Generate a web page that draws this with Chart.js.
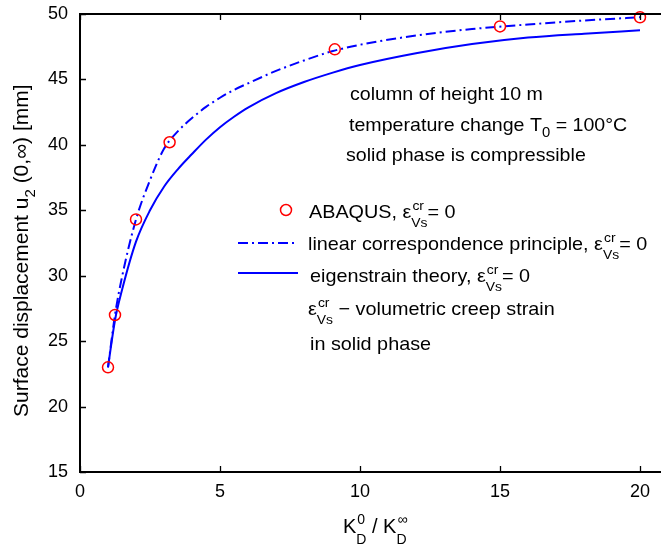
<!DOCTYPE html>
<html><head><meta charset="utf-8">
<script src="https://cdn.jsdelivr.net/npm/chart.js@4/dist/chart.umd.min.js"></script>
<style>html,body{margin:0;padding:0;background:#fff}canvas{display:block}</style>
</head><body>
<canvas id="c" width="661" height="547"></canvas>
<script>
// ---- data ----
const abaqusK = [1, 1.25, 2, 3.2, 9.1, 15, 20];
const abaqusU = [23.0, 27.0, 34.3, 40.2, 47.3, 49.05, 49.75];

const curveK = [1, 1.25, 1.5, 2, 2.5, 3, 3.5, 4, 4.5, 5, 5.5, 6, 7, 8, 9, 10, 12, 14, 16, 18, 20];
const lcpU   = [23.0, 27.0, 29.9, 34.3, 37.3, 39.7, 41.05, 42.05, 42.9, 43.6, 44.2, 44.7, 45.65, 46.45, 47.15, 47.65, 48.35, 48.85, 49.2, 49.5, 49.75];
const eigU   = [23.0, 26.6, 28.9, 32.6, 35.0, 36.8, 38.15, 39.3, 40.4, 41.35, 42.15, 42.85, 43.95, 44.8, 45.5, 46.1, 47.0, 47.7, 48.2, 48.5, 48.75];

const xTicks = [0, 5, 10, 15, 20];
const yTicks = [15, 20, 25, 30, 35, 40, 45, 50];

const FONT = '"Liberation Sans", Arial, Helvetica, sans-serif';
const BLUE = '#0000ff';
const RED = '#ff0000';

function pts(xs, ys) { return xs.map((x, i) => ({x: x, y: ys[i]})); }

// draw text made of segments: {t} normal, {sub}, {sup}, {ss:[sup,sub]}
function rich(ctx, x, y, segs, o) {
  const size = o.size, ssz = o.small || 13, sx = o.sx || 1;
  ctx.save();
  ctx.translate(x, y);
  if (o.rot) ctx.rotate(o.rot);
  ctx.scale(sx, 1);
  ctx.fillStyle = '#000';
  ctx.textBaseline = 'alphabetic';
  ctx.textAlign = 'left';
  let cx = 0;
  for (const s of segs) {
    if (s.t !== undefined) {
      ctx.font = size + 'px ' + FONT;
      ctx.fillText(s.t, cx, 0);
      cx += ctx.measureText(s.t).width;
    } else if (s.sub !== undefined) {
      ctx.font = ssz + 'px ' + FONT;
      ctx.fillText(s.sub, cx, o.down);
      cx += ctx.measureText(s.sub).width;
    } else if (s.sup !== undefined) {
      ctx.font = ssz + 'px ' + FONT;
      ctx.fillText(s.sup, cx, -o.up);
      cx += ctx.measureText(s.sup).width;
    } else if (s.ss) {
      ctx.font = ssz + 'px ' + FONT;
      ctx.fillText(s.ss[0], cx + 1, -o.up);
      ctx.fillText(s.ss[1], cx, o.down);
      cx += Math.max(ctx.measureText(s.ss[0]).width + 1, ctx.measureText(s.ss[1]).width);
    }
  }
  ctx.restore();
}

const decor = {
  id: 'decor',
  beforeDraw(chart) {
    const ctx = chart.ctx;
    ctx.save();
    ctx.fillStyle = '#fff';
    ctx.fillRect(0, 0, chart.width, chart.height);
    ctx.restore();
  },
  afterDraw(chart) {
    const ctx = chart.ctx;
    const xs = chart.scales.x, ys = chart.scales.y;
    const a = chart.chartArea;
    ctx.save();
    // top border
    ctx.strokeStyle = '#000';
    ctx.lineWidth = 2;
    ctx.beginPath();
    ctx.moveTo(a.left, a.top); ctx.lineTo(a.right, a.top);
    ctx.stroke();
    // inward ticks
    ctx.lineWidth = 1.3;
    ctx.beginPath();
    for (const v of xTicks) {
      const px = Math.round(xs.getPixelForValue(v)) + 0.5;
      ctx.moveTo(px, a.bottom); ctx.lineTo(px, a.bottom - 6);
      ctx.moveTo(px, a.top); ctx.lineTo(px, a.top + 6);
    }
    for (const v of yTicks) {
      const py = Math.round(ys.getPixelForValue(v)) + 0.5;
      ctx.moveTo(a.left, py); ctx.lineTo(a.left + 6, py);
    }
    ctx.stroke();

    // legend samples
    ctx.strokeStyle = RED; ctx.lineWidth = 1.5;
    ctx.beginPath(); ctx.arc(286, 210, 5.5, 0, Math.PI * 2); ctx.stroke();
    ctx.strokeStyle = BLUE; ctx.lineWidth = 2;
    ctx.setLineDash([10, 4, 2, 4]);
    ctx.beginPath(); ctx.moveTo(238, 243); ctx.lineTo(296, 243); ctx.stroke();
    ctx.setLineDash([]);
    ctx.beginPath(); ctx.moveTo(238, 273); ctx.lineTo(298, 273); ctx.stroke();
    ctx.restore();

    const T = {size: 18.5, small: 13, up: 8, down: 9, sx: 1.07};
    rich(ctx, 309, 218, [{t: 'ABAQUS, \u03b5'}, {ss: ['cr', 'Vs']}, {t: '= 0'}], T);
    rich(ctx, 308, 250, [{t: 'linear correspondence principle, \u03b5'}, {ss: ['cr', 'Vs']}, {t: '= 0'}], T);
    rich(ctx, 310, 282, [{t: 'eigenstrain theory, \u03b5'}, {ss: ['cr', 'Vs']}, {t: '= 0'}], T);
    rich(ctx, 308, 315, [{t: '\u03b5'}, {ss: ['cr', 'Vs']}, {t: ' \u2212 volumetric creep strain'}], T);
    rich(ctx, 310, 350, [{t: 'in solid phase'}], T);

    const A = {size: 18.5, small: 14, up: 8, down: 6, sx: 1.06};
    rich(ctx, 350, 100, [{t: 'column of height 10 m'}], A);
    rich(ctx, 349, 131, [{t: 'temperature change T'}, {sub: '0'}, {t: ' = 100\u00b0C'}], A);
    rich(ctx, 346, 161, [{t: 'solid phase is compressible'}], A);

    // axis titles
    rich(ctx, 343, 533, [{t: 'K'}, {ss: ['0', 'D']}, {t: ' / K'}, {ss: ['\u221e', 'D']}],
      {size: 20, small: 14, up: 9, down: 11, sx: 1.0});
    rich(ctx, 28, 417, [{t: 'Surface displacement u'}, {sub: '2'}, {t: ' (0,\u221e) [mm]'}],
      {size: 21, small: 15, up: 8, down: 7, sx: 1.0, rot: -Math.PI / 2});
  }
};

new Chart(document.getElementById('c'), {
  type: 'line',
  data: {
    datasets: [
      {
        label: 'ABAQUS',
        data: pts(abaqusK, abaqusU),
        showLine: false,
        pointStyle: 'circle',
        pointRadius: 5.5,
        pointBorderWidth: 1.5,
        pointBorderColor: RED,
        pointBackgroundColor: 'rgba(0,0,0,0)',
        clip: false
      },
      {
        label: 'linear correspondence principle',
        data: pts(curveK, lcpU),
        borderColor: BLUE,
        borderWidth: 2,
        borderDash: [10, 4, 2, 4],
        pointRadius: 0,
        fill: false,
        cubicInterpolationMode: 'monotone'
      },
      {
        label: 'eigenstrain theory',
        data: pts(curveK, eigU),
        borderColor: BLUE,
        borderWidth: 2,
        pointRadius: 0,
        fill: false,
        cubicInterpolationMode: 'monotone'
      }
    ]
  },
  options: {
    responsive: false,
    animation: false,
    devicePixelRatio: 1,
    layout: {autoPadding: false, padding: {left: 0, right: 0, top: 14, bottom: 0}},
    plugins: {legend: {display: false}, tooltip: {enabled: false}},
    scales: {
      x: {
        type: 'linear',
        min: 0, max: 20.75,
        afterBuildTicks(s) { s.ticks = xTicks.map(v => ({value: v})); },
        afterFit(s) { s.height = 75; s.paddingLeft = 0; s.paddingRight = 0; },
        grid: {display: false, drawTicks: false},
        border: {display: true, color: '#000', width: 2},
        ticks: {color: '#000', font: {family: FONT, size: 18}, padding: 9, maxRotation: 0}
      },
      y: {
        type: 'linear',
        min: 15, max: 50,
        afterBuildTicks(s) { s.ticks = yTicks.map(v => ({value: v})); },
        afterFit(s) { s.width = 80; s.paddingTop = 0; s.paddingBottom = 0; },
        grid: {display: false, drawTicks: false},
        border: {display: true, color: '#000', width: 2},
        ticks: {color: '#000', font: {family: FONT, size: 18}, padding: 12}
      }
    }
  },
  plugins: [decor]
});
</script>
</body></html>
